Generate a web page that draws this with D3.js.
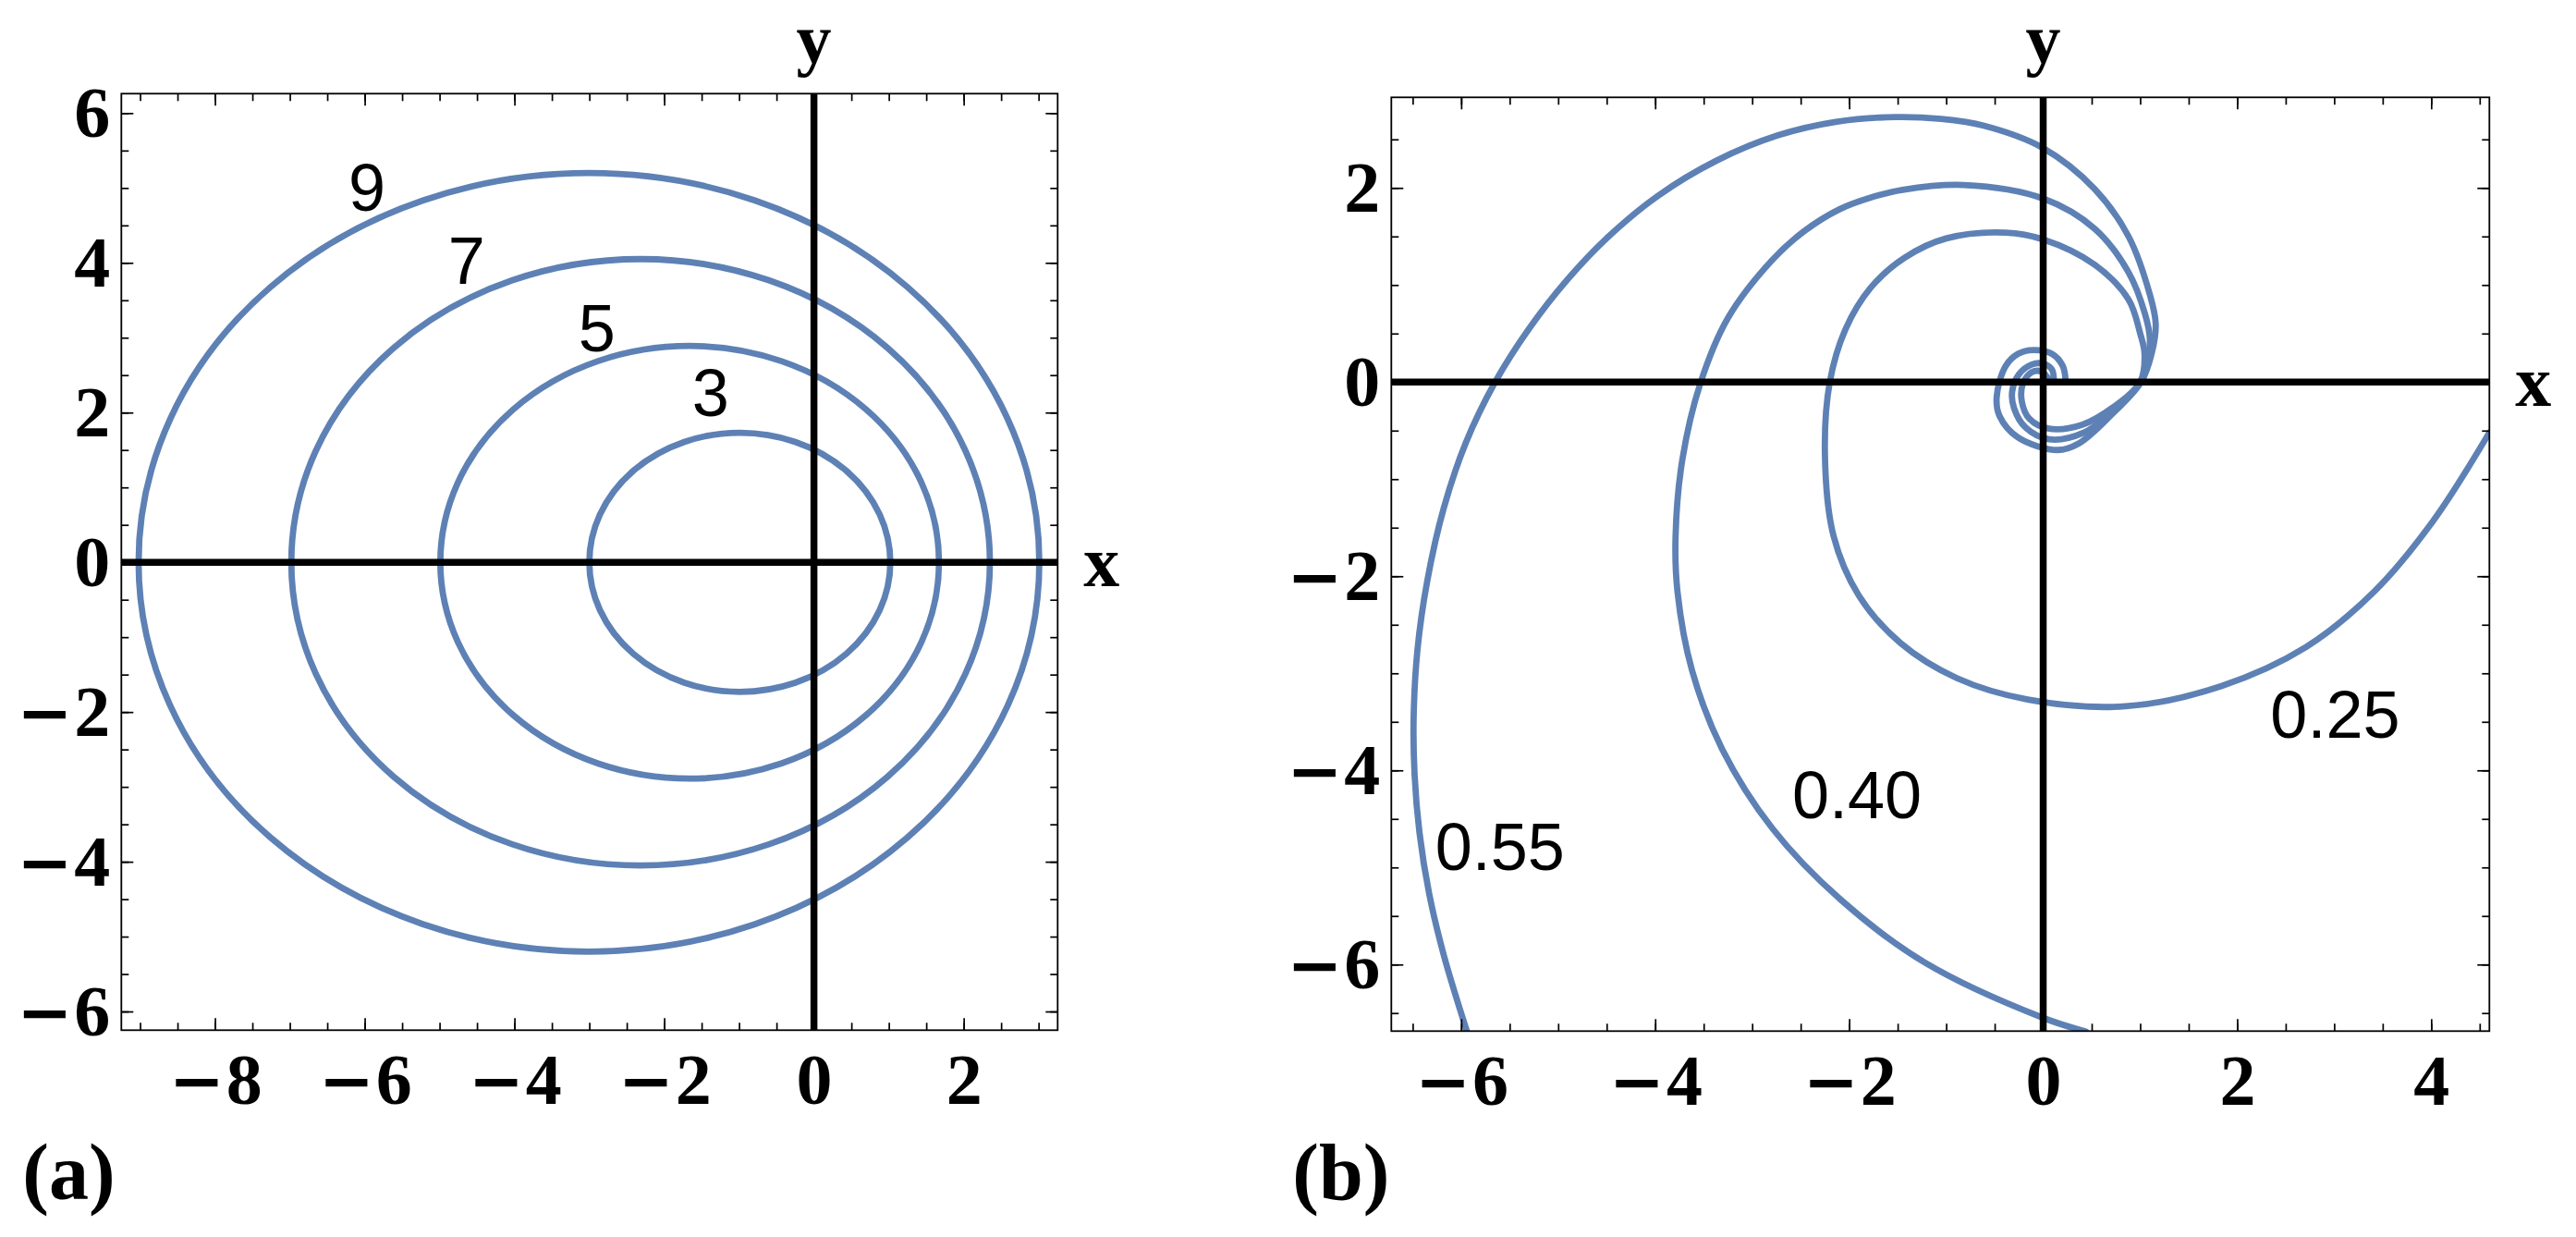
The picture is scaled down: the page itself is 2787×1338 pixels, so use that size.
<!DOCTYPE html>
<html>
<head>
<meta charset="utf-8">
<script src="https://cdn.jsdelivr.net/npm/d3@7"></script>
<style>
  body { margin: 0; background: #fff; }
  svg { display: block; }
  .tick text { font-family: "Liberation Serif", "Times New Roman", serif; font-weight: bold; font-size: 78px; fill: #000; }
  .tick text .minus { font-family: "DejaVu Sans", sans-serif; font-weight: bold; font-size: 72px; }
  .serif { font-family: "Liberation Serif", "Times New Roman", serif; font-weight: bold; fill: #000; }
  .curveLabel { font-family: "Liberation Sans", Arial, sans-serif; font-size: 72px; fill: #000; }
</style>
</head>
<body>
<svg id="chart" width="2787" height="1338"></svg>
<script>
// ---- panel (a): closed orbits ----
const ellipseNames = ["3", "5", "7", "9"]
const ellipseLeft = [-3.0, -4.99, -6.98, -9.02]
const ellipseRight = [1.02, 1.67, 2.35, 3.01]
const ellipseHalfHeight = [1.73, 2.89, 4.05, 5.2]
const ellipseLabelX = [-1.38, -2.90, -4.64, -5.97]
const ellipseLabelY = [1.95, 2.82, 3.72, 4.69]

const xTicksA = [-8, -6, -4, -2, 0, 2]
const yTicksA = [-6, -4, -2, 0, 2, 4, 6]

// ---- panel (b): spiralling trajectories ----
const spiralNames = ["0.55", "0.40", "0.25"]
const spiral055 = [
  [-5.94, -6.69], [-6.18, -5.90], [-6.33, -5.27], [-6.43, -4.64], [-6.48, -4.05],
  [-6.49, -3.46], [-6.45, -2.75], [-6.35, -2.05], [-6.18, -1.30], [-5.95, -0.62],
  [-5.65, 0.0], [-5.30, 0.55], [-4.91, 1.05], [-4.48, 1.50], [-3.97, 1.92],
  [-3.37, 2.28], [-2.74, 2.54], [-2.14, 2.68], [-1.52, 2.73], [-1.05, 2.71],
  [-0.61, 2.64], [0.0, 2.41], [0.53, 1.99], [0.88, 1.50], [1.10, 0.90],
  [1.16, 0.60], [1.12, 0.30], [1.01, 0.0],
  [0.69, -0.35], [0.37, -0.63], [0.15, -0.70], [-0.26, -0.57], [-0.45, -0.35],
  [-0.48, -0.16], [-0.39, 0.16], [-0.26, 0.29], [-0.10, 0.33], [0.09, 0.29],
  [0.20, 0.17], [0.23, 0.03]
]
const spiral040 = [
  [0.44, -6.69], [0.0, -6.55], [-1.22, -5.98], [-2.09, -5.33], [-2.79, -4.60],
  [-3.31, -3.78], [-3.62, -2.97], [-3.77, -2.16], [-3.79, -1.59], [-3.72, -0.80],
  [-3.53, 0.0], [-3.25, 0.66], [-2.80, 1.25], [-2.47, 1.55], [-2.10, 1.78],
  [-1.78, 1.90], [-1.45, 1.98], [-0.82, 2.03], [0.0, 1.89], [0.53, 1.58],
  [0.88, 1.13], [1.05, 0.70], [1.10, 0.44], [1.07, 0.20], [1.0, 0.0],
  [0.72, -0.30], [0.42, -0.52], [0.06, -0.59], [-0.18, -0.47], [-0.30, -0.27],
  [-0.32, -0.10], [-0.25, 0.08], [-0.12, 0.18], [0.0, 0.19], [0.09, 0.13], [0.11, 0.03]
]
const spiral025 = [
  [4.60, -0.52], [4.02, -1.43], [3.41, -2.16], [2.71, -2.73], [1.84, -3.13],
  [0.85, -3.34], [-0.16, -3.27], [-0.89, -3.05], [-1.47, -2.69], [-1.90, -2.20],
  [-2.16, -1.59], [-2.25, -0.75], [-2.20, 0.0], [-2.04, 0.54], [-1.78, 0.97],
  [-1.43, 1.28], [-1.0, 1.48], [-0.39, 1.54], [0.0, 1.47], [0.53, 1.21],
  [0.88, 0.85], [1.0, 0.50], [1.045, 0.29], [1.0, 0.0],
  [0.72, -0.26], [0.40, -0.44], [0.06, -0.48], [-0.14, -0.38], [-0.22, -0.20],
  [-0.21, -0.02], [-0.12, 0.10], [-0.02, 0.11], [0.05, 0.04]
]
const spiralLabelX = [-5.60, -1.92, 3.01]
const spiralLabelY = [-5.03, -4.49, -3.66]

const xTicksB = [-6, -4, -2, 0, 2, 4]
const yTicksB = [-6, -4, -2, 0, 2]

const blue = "#5e81b5"
const svg = d3.select("#chart")
svg.append("rect").attr("width", 2787).attr("height", 1338).attr("fill", "#fff")

function halfSteps(lo, hi) {
  const out = []
  for (let v = Math.ceil(lo * 2) / 2; v <= hi; v += 0.5) out.push(v)
  return out
}

// tick labels: heavy minus, bold serif digits
function signedLabels(s) {
  s.selectAll(".tick text").each(function(d) {
    const t = d3.select(this).text(null)
    if (d < 0) {
      t.append("tspan").attr("class", "minus").text("\u2212")
      t.append("tspan").attr("dx", 2).text(Math.abs(d))
    } else {
      t.text(d)
    }
  })
}

// frame, ticks on all sides, labels on left and bottom
function drawFrame(g, x, y, xMajor, yMajor) {
  const [left, right] = x.range()
  const [bottom, top] = y.range()
  const xMinor = halfSteps(x.domain()[0], x.domain()[1])
  const yMinor = halfSteps(y.domain()[0], y.domain()[1])
  const clean = s => { s.select(".domain").remove(); s.selectAll(".tick line").attr("stroke-width", 1.7) }

  g.append("g").attr("transform", `translate(0,${bottom})`)
    .call(d3.axisBottom(x).tickValues(xMinor).tickSize(-8).tickFormat("")).call(clean)
  g.append("g").attr("transform", `translate(0,${top})`)
    .call(d3.axisTop(x).tickValues(xMinor).tickSize(-8).tickFormat("")).call(clean)
  g.append("g").attr("transform", `translate(${left},0)`)
    .call(d3.axisLeft(y).tickValues(yMinor).tickSize(-8).tickFormat("")).call(clean)
  g.append("g").attr("transform", `translate(${right},0)`)
    .call(d3.axisRight(y).tickValues(yMinor).tickSize(-8).tickFormat("")).call(clean)

  g.append("g").attr("transform", `translate(0,${bottom})`)
    .call(d3.axisBottom(x).tickValues(xMajor).tickSize(-13).tickPadding(24)).call(clean).call(signedLabels)
  g.append("g").attr("transform", `translate(0,${top})`)
    .call(d3.axisTop(x).tickValues(xMajor).tickSize(-13).tickFormat("")).call(clean)
  g.append("g").attr("transform", `translate(${left},0)`)
    .call(d3.axisLeft(y).tickValues(yMajor).tickSize(-13).tickPadding(12)).call(clean).call(signedLabels)
  g.append("g").attr("transform", `translate(${right},0)`)
    .call(d3.axisRight(y).tickValues(yMajor).tickSize(-13).tickFormat("")).call(clean)

  g.append("rect")
    .attr("x", left).attr("y", top)
    .attr("width", right - left).attr("height", bottom - top)
    .attr("fill", "none").attr("stroke", "#000").attr("stroke-width", 1.8)
}

function drawAxes(g, x, y, name) {
  const [left, right] = x.range()
  const [bottom, top] = y.range()
  g.append("line").attr("x1", left).attr("x2", right).attr("y1", y(0)).attr("y2", y(0))
    .attr("stroke", "#000").attr("stroke-width", 7.5)
  g.append("line").attr("x1", x(0)).attr("x2", x(0)).attr("y1", top).attr("y2", bottom)
    .attr("stroke", "#000").attr("stroke-width", 7.5)
  g.append("text").attr("class", "serif").attr("x", right + 28).attr("y", y(0) + 26)
    .style("font-size", "78px").text("x")
  g.append("text").attr("class", "serif").attr("x", x(0)).attr("y", Math.max(top - 39, 68))
    .attr("text-anchor", "middle").style("font-size", "76px").text("y")
  g.append("text").attr("class", "serif").attr("x", left - 107).attr("y", 1297)
    .style("font-size", "86px").text(name)
}

function clipFor(id, x, y) {
  const [left, right] = x.range()
  const [bottom, top] = y.range()
  svg.append("clipPath").attr("id", id).append("rect")
    .attr("x", left).attr("y", top).attr("width", right - left).attr("height", bottom - top)
  return `url(#${id})`
}

// ---------- panel (a) ----------
const xA = d3.scaleLinear().domain([-9.25, 3.255]).range([131.3, 1144.3])
const yA = d3.scaleLinear().domain([-6.25, 6.26]).range([1114.3, 101.3])
const gA = svg.append("g")

const orbits = ellipseNames.map((n, i) => ({
  name: n, left: ellipseLeft[i], right: ellipseRight[i], half: ellipseHalfHeight[i],
  lx: ellipseLabelX[i], ly: ellipseLabelY[i]
}))

gA.append("g").attr("clip-path", clipFor("clipA", xA, yA))
  .selectAll("ellipse").data(orbits).enter().append("ellipse")
  .attr("cx", d => xA((d.left + d.right) / 2))
  .attr("cy", yA(0))
  .attr("rx", d => xA(d.right) - xA((d.left + d.right) / 2))
  .attr("ry", d => yA(0) - yA(d.half))
  .attr("fill", "none").attr("stroke", blue).attr("stroke-width", 6.8)

gA.selectAll(".orbitLabel").data(orbits).enter().append("text")
  .attr("class", "curveLabel").attr("text-anchor", "middle")
  .attr("x", d => xA(d.lx)).attr("y", d => yA(d.ly)).text(d => d.name)

drawAxes(gA, xA, yA, "(a)")
drawFrame(gA, xA, yA, xTicksA, yTicksA)

// ---------- panel (b) ----------
const xB = d3.scaleLinear().domain([-6.72, 4.60]).range([1505.3, 2693.3])
const yB = d3.scaleLinear().domain([-6.686, 2.933]).range([1115.3, 105.3])
const gB = svg.append("g")

const spirals = [spiral055, spiral040, spiral025].map((pts, i) => ({
  name: spiralNames[i], pts: pts, lx: spiralLabelX[i], ly: spiralLabelY[i]
}))

const line = d3.line().x(d => xB(d[0])).y(d => yB(d[1])).curve(d3.curveCatmullRom.alpha(0.5))

gB.append("g").attr("clip-path", clipFor("clipB", xB, yB))
  .selectAll("path").data(spirals).enter().append("path")
  .attr("d", d => line(d.pts))
  .attr("fill", "none").attr("stroke", blue).attr("stroke-width", 6.8)
  .attr("stroke-linejoin", "round").attr("stroke-linecap", "round")

gB.selectAll(".spiralLabel").data(spirals).enter().append("text")
  .attr("class", "curveLabel").attr("text-anchor", "middle")
  .attr("x", d => xB(d.lx)).attr("y", d => yB(d.ly)).text(d => d.name)

drawAxes(gB, xB, yB, "(b)")
drawFrame(gB, xB, yB, xTicksB, yTicksB)
</script>
</body>
</html>
